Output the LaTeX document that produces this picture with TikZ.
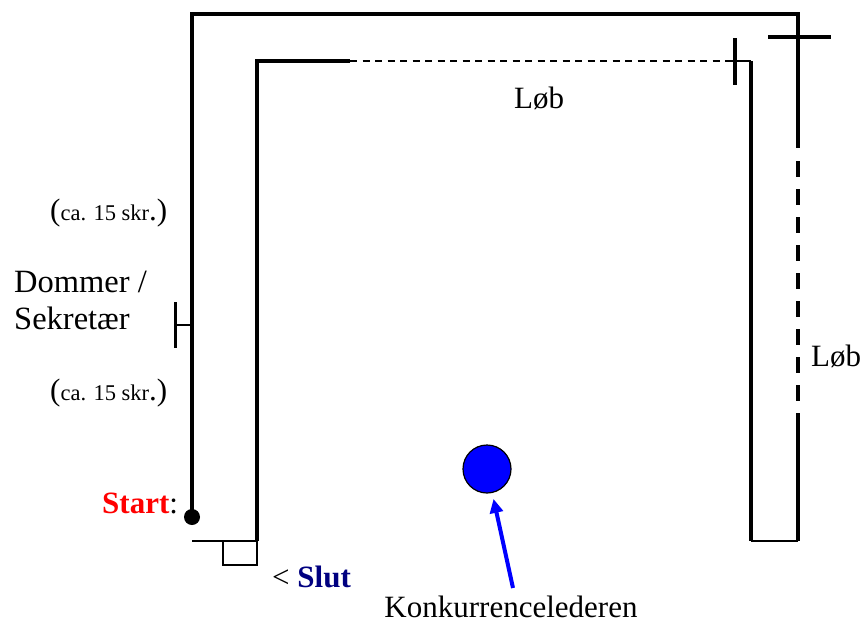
\documentclass[tikz,border=0pt]{standalone}
\usepackage{fontspec}
\setmainfont{Liberation Serif}
\usetikzlibrary{arrows.meta}
\definecolor{slutblue}{RGB}{0,0,128}
\begin{document}
\begin{tikzpicture}[x=1pt,y=-1pt,
  thickline/.style={line width=3.6pt},
  thinline/.style={line width=2pt},
  lbl/.style={inner sep=0pt,font=\fontsize{31}{36}\selectfont},
  biglbl/.style={inner sep=0pt,font=\fontsize{32.5}{38}\selectfont},
  skr/.style={inner sep=0pt,anchor=base west}]
\useasboundingbox (0,0) rectangle (868,627);
% outer track
\draw[thickline] (192,517) -- (192,14) -- (798,14) -- (798,148);
\draw[line width=4.6pt] (192,218) -- (192,273);
\draw[thickline,dash pattern=on 16pt off 12pt] (798,161) -- (798,402);
\draw[thickline] (798,413) -- (798,541);
\draw[thinline] (798,541) -- (751,541);
% inner track
\draw[thickline] (350,61) -- (257,61) -- (257,541);
\draw[line width=1.6pt,dash pattern=on 7pt off 5.5pt] (350,61) -- (729,61);
\draw[thinline] (728,61) -- (751,61);
\draw[thickline] (751,61) -- (751,541);
% ticks
\draw[thickline] (735,38) -- (735,85);
\draw[thickline] (768,37) -- (831,37);
\draw[line width=3pt] (175,302) -- (175,348);
\draw[line width=2.4pt] (175,325) -- (192,325);
% start / finish
\fill (192,517) circle (8);
\draw[thinline] (192,541) -- (257,541);
\draw[thinline] (223,541) -- (223,565) -- (257,565) -- (257,541);
% texts
\node[skr] (skr1) at (50,220) {{\fontsize{31}{36}\selectfont(}{\fontsize{22.5}{26}\selectfont ca. 15 skr}{\fontsize{31}{36}\selectfont.)}};
\node[skr] (skr2) at (50,400) {{\fontsize{31}{36}\selectfont(}{\fontsize{22.5}{26}\selectfont ca. 15 skr}{\fontsize{31}{36}\selectfont.)}};
\node[biglbl,anchor=base west] (dom) at (14,292) {Dommer /};
\node[biglbl,anchor=base west] (sek) at (14,329) {Sekretær};
\node[lbl,anchor=base west] (start) at (102,513) {\textcolor{red}{\textbf{Start}}:};
\node[lbl,anchor=base west] (slut) at (272,587) {< \textcolor{slutblue}{\textbf{Slut}}};
\node[lbl,anchor=base west] (lob1) at (514,108) {Løb};
\node[lbl,anchor=base west] (lob2) at (811,366) {Løb};
\node[lbl,anchor=base] (kon) at (511,617) {Konkurrencelederen};
% leader
\node[circle,minimum size=48pt,inner sep=0pt,fill=blue,draw=black,line width=1.2pt] (ref) at (487,469) {};
\coordinate (a0) at (513,588);
\draw[blue,line width=4pt,-{Triangle[length=14pt,width=13pt]},shorten >=6pt] (a0) -- (ref);
\end{tikzpicture}
\end{document}
